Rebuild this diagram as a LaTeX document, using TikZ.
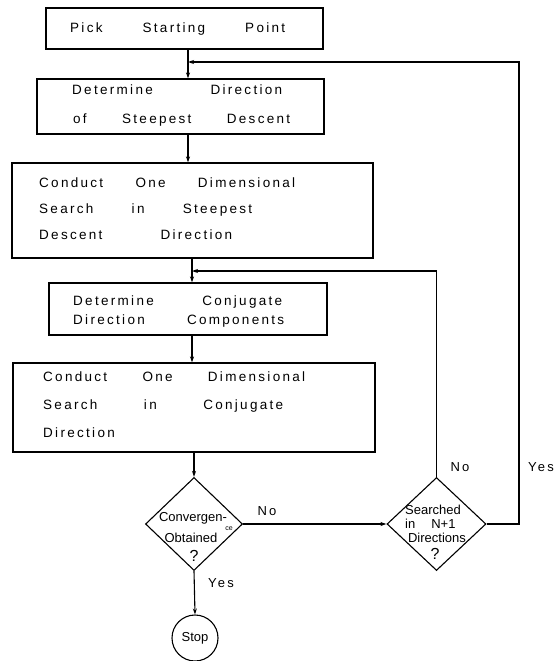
\documentclass[tikz,border=0pt]{standalone}
\usepackage{fontspec}
\setmainfont{Liberation Sans}
\newfontfamily\spacedfont[LetterSpace=17]{Liberation Sans}
\usetikzlibrary{arrows.meta,shapes.geometric}
\begin{document}
\begin{tikzpicture}[x=1pt,y=-1pt,
  box/.style={draw,line width=1.1pt,rectangle,inner sep=0pt},
  boxtext/.style={anchor=base west,inner sep=0pt,font=\spacedfont\fontsize{13.5}{16}\selectfont},
  lbl/.style={inner sep=0pt,font=\spacedfont\fontsize{13}{15}\selectfont},
  dtext/.style={inner sep=0pt,font=\fontsize{13}{15}\selectfont},
  dia/.style={draw,line width=1.1pt,diamond,inner sep=0pt},
  arr/.style={line width=1.1pt,-{Stealth[length=6pt,width=4pt]}},
  ln/.style={line width=1.1pt}]
\useasboundingbox (0,0) rectangle (554,661);
% boxes
\node[box,minimum width=277pt,minimum height=41pt] (b1) at (184.5,28.5) {};
\node[box,minimum width=287pt,minimum height=55pt] (b2) at (180.5,106.5) {};
\node[box,minimum width=361pt,minimum height=95pt] (b3) at (192.5,210.5) {};
\node[box,minimum width=278pt,minimum height=52pt] (b4) at (188,309) {};
\node[box,minimum width=362pt,minimum height=89pt] (b5) at (194,407.5) {};
% box texts
\node[boxtext] (t11) at (70,33) {\makebox[215pt][s]{Pick Starting Point}};
\node[boxtext] (t21) at (72,95) {\makebox[210pt][s]{Determine Direction}};
\node[boxtext] (t22) at (73,123) {\makebox[217pt][s]{of Steepest Descent}};
\node[boxtext] (t31) at (39,187) {\makebox[256pt][s]{Conduct One Dimensional}};
\node[boxtext] (t32) at (39,213) {\makebox[213pt][s]{Search in Steepest}};
\node[boxtext] (t33) at (39,239) {\makebox[193pt][s]{Descent Direction}};
\node[boxtext] (t41) at (73,305) {\makebox[209pt][s]{Determine Conjugate}};
\node[boxtext] (t42) at (73,324) {\makebox[211pt][s]{Direction Components}};
\node[boxtext] (t51) at (43,381) {\makebox[262pt][s]{Conduct One Dimensional}};
\node[boxtext] (t52) at (43,409) {\makebox[240pt][s]{Search in Conjugate}};
\node[boxtext] (t53) at (43,437) {Direction};
% diamonds
\node[dia,minimum width=97pt,minimum height=93pt] (d1) at (194,524) {};
\node[dia,minimum width=99pt,minimum height=93pt] (d2) at (436.5,524) {};
\node[dtext] (d1a) at (193,518) {Convergen-};
\node[inner sep=0pt,font=\fontsize{7}{8}\selectfont] (d1b) at (229,529) {ce};
\node[dtext] (d1c) at (191,538) {Obtained};
\node[inner sep=0pt,font=\fontsize{16}{18}\selectfont] (d1d) at (194,556) {?};
\node[dtext] (d2a) at (433,510) {Searched};
\node[dtext,anchor=west] (d2b) at (405,524) {in\hspace{16pt}N+1};
\node[dtext] (d2c) at (437,538) {Directions};
\node[inner sep=0pt,font=\fontsize{16}{18}\selectfont] (d2d) at (435,554) {?};
% stop
\node[draw,circle,line width=1.1pt,minimum size=46pt,inner sep=0pt,font=\fontsize{13}{15}\selectfont] (stop) at (195,638) {Stop};
% labels
\node[lbl] (no1) at (267,511) {No};
\node[lbl] (yes1) at (221,583) {Yes};
\node[lbl] (no2) at (460,467) {No};
\node[lbl] (yes2) at (541,467) {Yes};
% junctions
\coordinate (j1) at (188,62);
\coordinate (j2) at (192,271);
\coordinate (c1) at (519,62);
% connectors
\draw[arr] (b1.south -| j1) -- (b2.north -| j1);
\draw[arr] (b2.south -| j1) -- (b3.north -| j1);
\draw[arr] (b3.south -| j2) -- (b4.north -| j2);
\draw[arr] (b4.south -| j2) -- (b5.north -| j2);
\draw[arr] (b5.south -| d1.north) -- (d1.north);
\draw[arr] (d1.east) -- (d2.west);
\draw[arr] (d1.south) -- (stop.north);
\draw[arr] (d2.north) |- (j2);
\draw[arr] (d2.east) -| (c1) -- (j1);
\end{tikzpicture}
\end{document}
